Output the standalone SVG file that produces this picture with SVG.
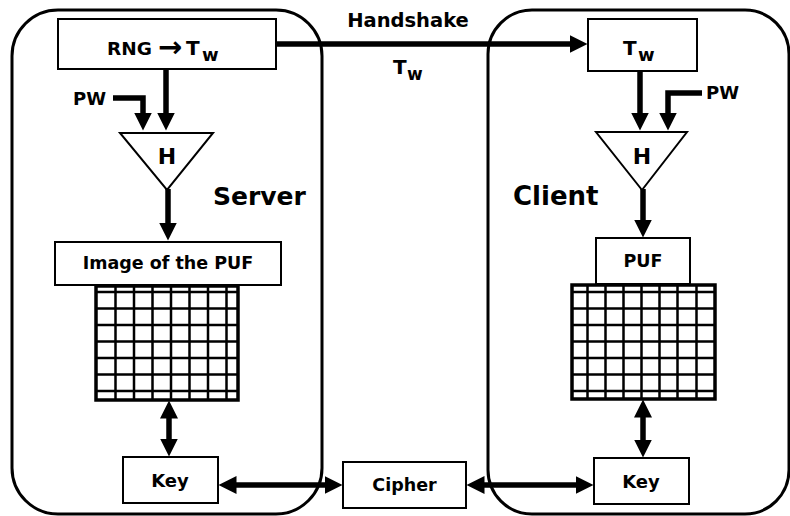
<svg xmlns="http://www.w3.org/2000/svg" width="790" height="516" viewBox="0 0 790 516">
<style>
text{font-family:"DejaVu Sans","Verdana",sans-serif;font-weight:bold;fill:#000}
.box{fill:#fff;stroke:#000;stroke-width:2}
.cont{fill:none;stroke:#000;stroke-width:3}
.ln{fill:none;stroke:#000;stroke-width:5.5}
.gb{fill:#fff;stroke:#000;stroke-width:3.5}
.gl{fill:none;stroke:#000;stroke-width:2.5}
</style>
<defs>
<marker id="ah" viewBox="0 0 18 18" refX="0.5" refY="9" markerWidth="18" markerHeight="18" markerUnits="userSpaceOnUse" orient="auto-start-reverse">
<path d="M0,0 L18,9 L0,18 z" fill="#000"/>
</marker>
</defs>
<rect width="790" height="516" fill="#fff"/>
<g id="server">
<rect class="cont" x="12" y="10" width="310" height="504" rx="46" ry="46"/>
<text x="213" y="205" font-size="25">Server</text>
</g>
<g id="client">
<rect class="cont" x="488" y="10" width="301" height="504" rx="44" ry="44"/>
<text x="513" y="205" font-size="26">Client</text>
</g>
<g id="connectors">
<line class="ln" x1="276" y1="44" x2="570" y2="44" marker-end="url(#ah)"/>
<text x="408" y="27" font-size="19.5" text-anchor="middle">Handshake</text>
<text font-size="20"><tspan x="393" y="74">T</tspan><tspan x="407" y="80" font-size="17">w</tspan></text>
<line class="ln" x1="166" y1="69" x2="166" y2="113" marker-end="url(#ah)"/>
<polyline class="ln" points="113,98 143,98 143,113" marker-end="url(#ah)"/>
<line class="ln" x1="168" y1="189" x2="168" y2="223" marker-end="url(#ah)"/>
<line class="ln" x1="169" y1="418" x2="169" y2="439" marker-start="url(#ah)" marker-end="url(#ah)"/>
<line class="ln" x1="640" y1="71" x2="640" y2="113" marker-end="url(#ah)"/>
<polyline class="ln" points="702,93 668,93 668,113" marker-end="url(#ah)"/>
<line class="ln" x1="643" y1="189" x2="643" y2="220" marker-end="url(#ah)"/>
<line class="ln" x1="643" y1="417" x2="643" y2="440" marker-start="url(#ah)" marker-end="url(#ah)"/>
<line class="ln" x1="236" y1="485" x2="325" y2="485" marker-start="url(#ah)" marker-end="url(#ah)"/>
<line class="ln" x1="484" y1="485" x2="576" y2="485" marker-start="url(#ah)" marker-end="url(#ah)"/>
</g>
<g id="rng">
<rect class="box" x="58" y="19" width="218" height="50"/>
<text font-size="18.5"><tspan x="107" y="55">RNG</tspan><tspan x="158" y="57" font-size="29">→</tspan><tspan x="186" y="55" font-size="20">T</tspan><tspan x="202" y="61" font-size="18">w</tspan></text>
</g>
<g id="pw-server">
<text x="106" y="105" font-size="18" text-anchor="end">PW</text>
</g>
<g id="hash-server">
<polygon class="box" points="120,133 213,133 167,190"/>
<text x="167" y="164" font-size="22" text-anchor="middle">H</text>
</g>
<g id="image-puf">
<rect class="box" x="55" y="242" width="226" height="43"/>
<text x="168" y="269" font-size="17.5" text-anchor="middle">Image of the PUF</text>
</g>
<g id="grid-server">
<rect class="gb" x="96" y="286" width="142" height="114"/>
<path class="gl" d="M115.5,286V400M134,286V400M152.5,286V400M171,286V400M189.5,286V400M208,286V400M226.5,286V400M96,292H238M96,308.5H238M96,325H238M96,341.5H238M96,358H238M96,374.5H238M96,391H238"/>
</g>
<g id="key-server">
<rect class="box" x="123" y="457" width="95" height="46"/>
<text x="170" y="487" font-size="18" text-anchor="middle">Key</text>
</g>
<g id="cipher">
<rect class="box" x="343" y="462" width="123" height="46"/>
<text x="404.5" y="491" font-size="17.5" text-anchor="middle">Cipher</text>
</g>
<g id="tw-client">
<rect class="box" x="588" y="19" width="109" height="52"/>
<text font-size="20"><tspan x="623" y="55">T</tspan><tspan x="638" y="61" font-size="18">w</tspan></text>
</g>
<g id="pw-client">
<text x="706" y="99" font-size="18">PW</text>
</g>
<g id="hash-client">
<polygon class="box" points="596,132 687,132 642,190"/>
<text x="642" y="164" font-size="22" text-anchor="middle">H</text>
</g>
<g id="puf-client">
<rect class="box" x="596" y="238" width="94" height="46"/>
<text x="643" y="267" font-size="17.5" text-anchor="middle">PUF</text>
</g>
<g id="grid-client">
<rect class="gb" x="572" y="285" width="143" height="114"/>
<path class="gl" d="M587.5,285V399M605.5,285V399M623.5,285V399M641.5,285V399M659.5,285V399M677.5,285V399M696.5,285V399M572,292H715M572,308.5H715M572,325H715M572,341.5H715M572,358H715M572,374.5H715M572,391H715"/>
</g>
<g id="key-client">
<rect class="box" x="594" y="458" width="95" height="46"/>
<text x="641" y="488" font-size="18" text-anchor="middle">Key</text>
</g>
</svg>
